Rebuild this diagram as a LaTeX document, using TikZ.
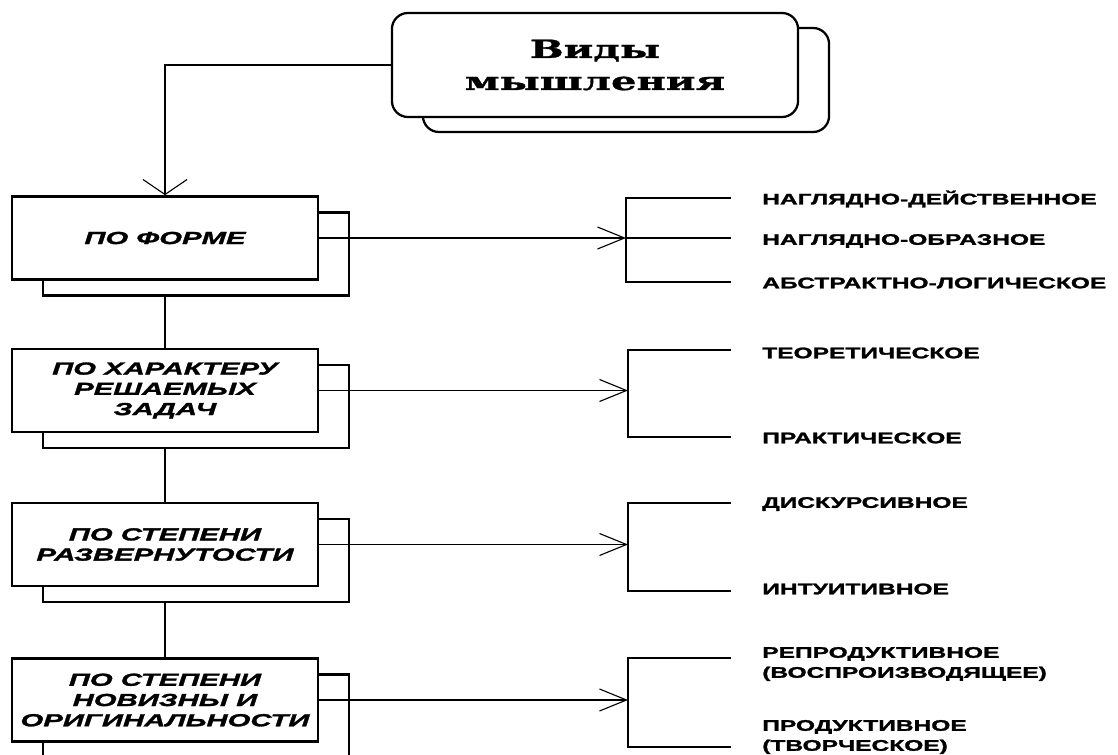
\documentclass[tikz,border=0pt]{standalone}
\usepackage{fontspec}
\usetikzlibrary{arrows.meta}
\usetikzlibrary{shadows}
\usetikzlibrary{backgrounds}

\newfontfamily\headfont[FakeStretch=1.6, FakeBold=1.2]{DejaVu Serif}
\newfontfamily\groupfont[FakeStretch=1.68, FakeBold=1.6]{Liberation Sans}
\newfontfamily\kindfont[FakeStretch=1.6, FakeBold=1.6]{Liberation Sans}

\begin{document}
\begin{tikzpicture}[x=0.025cm, y=-0.025cm,
    headbox/.style={draw, line width=1.6pt, fill=white, rounded corners=0.4cm,
        minimum width=10.15cm, minimum height=2.6cm, align=center, inner sep=0pt,
        font=\headfont\bfseries\fontsize{17.8}{22.8}\selectfont,
        copy shadow={shadow xshift=0.775cm, shadow yshift=-0.375cm,
            draw=black, fill=white, line width=1.6pt}},
    groupbox/.style={draw, line width=1.7pt, fill=white,
        minimum width=7.65cm, minimum height=2.08cm, align=center, inner sep=0pt,
        font=\groupfont\bfseries\itshape\fontsize{12.4}{14.4}\selectfont,
        copy shadow={shadow xshift=0.775cm, shadow yshift=-0.4cm,
            draw=black, fill=white, line width=1.7pt}},
    kindlabel/.style={anchor=west, align=left, inner sep=0pt,
        font=\kindfont\bfseries\fontsize{10.9}{14.2}\selectfont},
    link/.style={line width=0.8pt},
    downarrow/.style={link, -{Straight Barb[length=0.375cm, width=1.1cm]}},
    sidearrow/.style={link, -{Straight Barb[length=0.675cm, width=0.55cm]}}]
    \useasboundingbox (0, 0) rectangle (1118, 755);

    \node[headbox] (kinds) at (595, 65) {Виды\\мышления};

    \node[groupbox] (form) at (165, 238) {ПО ФОРМЕ};
    \node[groupbox] (task) at (165, 390.5) {ПО ХАРАКТЕРУ\\РЕШАЕМЫХ\\ЗАДАЧ};
    \node[groupbox] (depth) at (165, 544.5) {ПО СТЕПЕНИ\\РАЗВЕРНУТОСТИ};
    \node[groupbox] (novelty) at (165, 700) {ПО СТЕПЕНИ\\НОВИЗНЫ И\\ОРИГИНАЛЬНОСТИ};

    \begin{scope}[on background layer]
        \draw[link] (form.south) -- (task.north);
        \draw[link] (task.south) -- (depth.north);
        \draw[link] (depth.south) -- (novelty.north);
    \end{scope}

    \draw[downarrow] (kinds.west) -| (form.north);

    \coordinate (formfork) at (626, 238);
    \coordinate (formtop) at (731, 198);
    \coordinate (formmid) at (731, 238);
    \coordinate (formbot) at (731, 282);
    \coordinate (taskfork) at (628, 390.5);
    \coordinate (tasktop) at (731, 350);
    \coordinate (taskbot) at (731, 437);
    \coordinate (depthfork) at (628, 544.5);
    \coordinate (depthtop) at (731, 503);
    \coordinate (depthbot) at (731, 591);
    \coordinate (noveltyfork) at (628, 700);
    \coordinate (noveltytop) at (731, 658);
    \coordinate (noveltybot) at (731, 747);

    \draw[sidearrow] (form.east) -- (formfork);
    \draw[sidearrow] (task.east) -- (taskfork);
    \draw[sidearrow] (depth.east) -- (depthfork);
    \draw[sidearrow] (novelty.east) -- (noveltyfork);

    \draw[link] (formtop) -| (formfork) |- (formbot);
    \draw[link] (formfork) -- (formmid);
    \draw[link] (tasktop) -| (taskfork) |- (taskbot);
    \draw[link] (depthtop) -| (depthfork) |- (depthbot);
    \draw[link] (noveltytop) -| (noveltyfork) |- (noveltybot);

    \node[kindlabel] (visualaction) at (762, 199) {НАГЛЯДНО-ДЕЙСТВЕННОЕ};
    \node[kindlabel] (visualimage) at (762, 241) {НАГЛЯДНО-ОБРАЗНОЕ};
    \node[kindlabel] (abstract) at (762, 283) {АБСТРАКТНО-ЛОГИЧЕСКОЕ};
    \node[kindlabel] (theory) at (762, 353) {ТЕОРЕТИЧЕСКОЕ};
    \node[kindlabel] (practice) at (762, 438) {ПРАКТИЧЕСКОЕ};
    \node[kindlabel] (discursive) at (762, 504) {ДИСКУРСИВНОЕ};
    \node[kindlabel] (intuitive) at (762, 589) {ИНТУИТИВНОЕ};
    \node[kindlabel] (reproductive) at (762, 664) {РЕПРОДУКТИВНОЕ\\(ВОСПРОИЗВОДЯЩЕЕ)};
    \node[kindlabel] (productive) at (762, 737) {ПРОДУКТИВНОЕ\\(ТВОРЧЕСКОЕ)};
\end{tikzpicture}
\end{document}
